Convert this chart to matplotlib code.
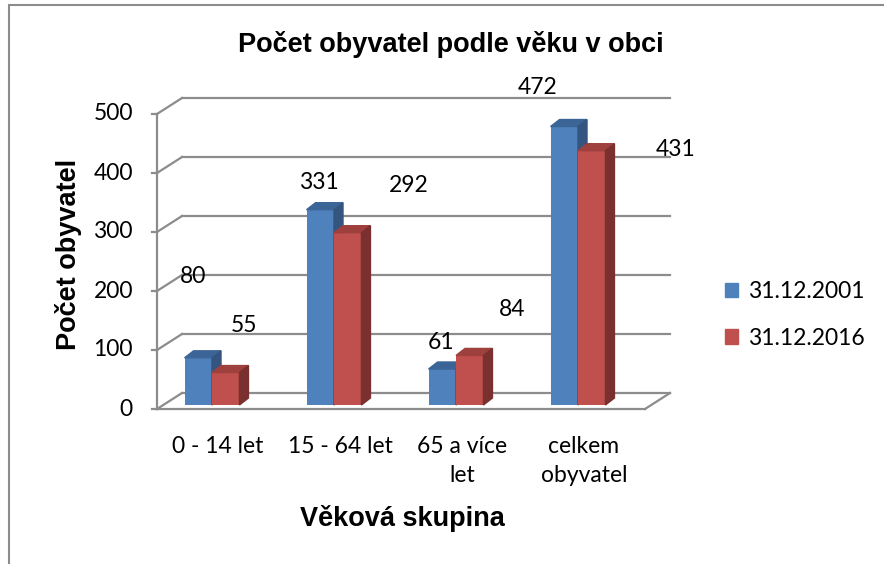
import numpy as np
import matplotlib
matplotlib.use("Agg")
import matplotlib.pyplot as plt
from matplotlib.patches import Polygon, Patch, Rectangle

plt.rcParams['font.family'] = ['Lato', 'DejaVu Sans']

# data
categories = ["0 - 14 let", "15 - 64 let", "65 a více\nlet", "celkem\nobyvatel"]
series = ["31.12.2001", "31.12.2016"]
val_2001 = [80, 331, 61, 472]
val_2016 = [55, 292, 84, 431]
yticks = [0, 100, 200, 300, 400, 500]

face_cols = ["#4F81BD", "#C0504D"]
top_cols = ["#3C6597", "#9E403D"]
side_cols = ["#335580", "#7A302E"]
grid_col = "#8C8C8C"
fs = 16.5
bold_font = ['Liberation Sans', 'DejaVu Sans']

W, H = 884, 564
fig = plt.figure(figsize=(W / 100, H / 100), dpi=100)
# bar plane: x -0.5..3.5 -> px 151..639, y 0..500 -> px 405..110
ax = fig.add_axes([151 / W, (H - 405) / H, 488 / W, 295 / H])
ax.set_xlim(-0.5, 3.5)
ax.set_ylim(0, 500)
ax.axis("off")

pxx = 488 / 4.0      # pixels per category
pxy = 295 / 500.0    # pixels per unit


def off(dx, dy):
    return dx / pxx, dy / pxy

fx, fy = off(6, -4)    # front plane
bx, by = off(31, 12)   # back plane
dx, dy = off(9, 7)     # bar depth
lw = 1.6
n = len(categories)
x0, x1 = -0.5, n - 0.5

# back wall gridlines + left wall diagonals + ticks
for v in yticks:
    ax.plot([x0 + bx, x1 + bx], [v + by, v + by], color=grid_col, lw=lw, clip_on=False, zorder=1)
    ax.plot([x0 + fx, x0 + bx], [v + fy, v + by], color=grid_col, lw=lw, clip_on=False, zorder=1)
    ax.plot([x0 + fx - 5 / pxx, x0 + fx], [v + fy, v + fy], color=grid_col, lw=lw, clip_on=False, zorder=1)
    ax.text(x0 + fx - 24 / pxx, v + fy, str(v), ha="right", va="center", fontsize=fs)
# front axis line and floor
ax.plot([x0 + fx, x0 + fx], [fy, 500 + fy], color=grid_col, lw=lw, clip_on=False, zorder=1)
ax.plot([x0 + fx, x1 + fx], [fy, fy], color=grid_col, lw=lw, clip_on=False, zorder=1)
ax.plot([x1 + fx, x1 + bx], [fy, by], color=grid_col, lw=lw, clip_on=False, zorder=1)

# bars
bw = 0.225
x = np.arange(n)
for s, vals in enumerate([val_2001, val_2016]):
    lefts = x - bw + s * bw
    ax.bar(lefts, vals, width=bw, align="edge", color=face_cols[s], zorder=3 + s)
    for i, v in enumerate(vals):
        l, r = lefts[i], lefts[i] + bw
        z = 3 + s
        ax.add_patch(Polygon([(l, v), (r, v), (r + dx, v + dy), (l + dx, v + dy)],
                             closed=True, color=top_cols[s], zorder=z, clip_on=False))
        ax.add_patch(Polygon([(r, 0), (r + dx, dy), (r + dx, v + dy), (r, v)],
                             closed=True, color=side_cols[s], zorder=z, clip_on=False))

# data labels (Excel placed them oddly, offsets in pixels)
lab_off_2001 = [(-5, 81), (-1, 27), (-1, 27), (-27, 39)]
lab_off_2016 = [(18, 47), (61, 47), (42, 46), (84, 1)]
for s, (vals, offs) in enumerate([(val_2001, lab_off_2001), (val_2016, lab_off_2016)]):
    for i, v in enumerate(vals):
        xc = i - bw / 2 + s * bw
        ax.annotate(str(v), (xc, v), xytext=offs[i], textcoords="offset pixels",
                    ha="center", va="center", fontsize=fs, annotation_clip=False, zorder=10)

# category labels
for i, c in enumerate(categories):
    ax.text(i + 6 / pxx, -31 / pxy, c, ha="center", va="top", fontsize=fs, linespacing=1.45)

# titles
fig.text(451 / W, 1 - 44 / H, "Počet obyvatel podle věku v obci", ha="center", va="center",
         fontsize=19.5, fontweight="bold", family=bold_font)
fig.text(68 / W, 1 - 254 / H, "Počet obyvatel", ha="center", va="center", rotation=90,
         fontsize=19.5, fontweight="bold", family=bold_font)
fig.text(402 / W, 1 - 519 / H, "Věková skupina", ha="center", va="center",
         fontsize=19.5, fontweight="bold", family=bold_font)

# legend
handles = [Patch(color=face_cols[k], label=series[k]) for k in range(2)]
fig.legend(handles=handles, loc="center left", bbox_to_anchor=(704 / W, 1 - 315 / H),
           frameon=False, fontsize=fs, handlelength=0.6, handleheight=0.6,
           handletextpad=0.4, labelspacing=1.12)

# chart border (only left/top visible in the picture)
fig.patches.append(Rectangle((9 / W, -0.1), 1.2, 1 - 5 / H + 0.1, transform=fig.transFigure,
                             fill=False, edgecolor="#8C8C8C", lw=1.5))

fig.savefig("out.png", dpi=100)
